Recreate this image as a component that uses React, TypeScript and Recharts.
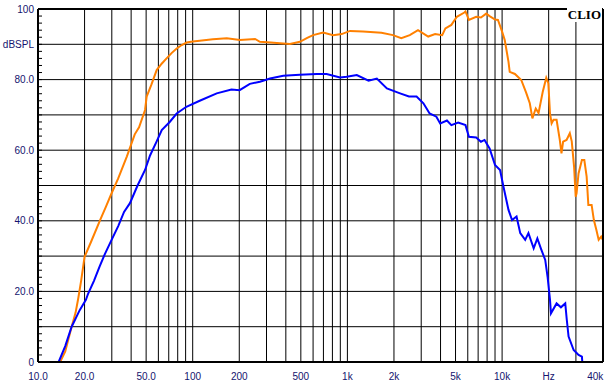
import {
  LineChart,
  Line,
  XAxis,
  YAxis,
  CartesianGrid,
  ReferenceLine,
} from "recharts";

// frequency response, Hz / dBSPL
const orangeFreq = [
  13.9, 15, 16.5, 17.5, 18.2, 19, 20, 22, 25.2, 27.5, 29.9, 33, 37.5, 42.2, 45,
  49.2, 50.4, 54, 58.5, 63, 67.8, 73, 78.8, 85, 91.3, 100, 111, 135, 166, 202,
  253, 272, 320, 366, 425, 493, 550, 600, 697, 808, 918, 1040, 1260, 1660, 1970,
  2230, 2530, 2860, 3330, 3690, 4100, 4300, 4700, 5100, 5700, 5800, 6100, 6800,
  7300, 7900, 8300, 9000, 9400, 10000, 10400, 11000, 11200, 12100, 13300, 14300,
  15100, 15700, 16500, 17200, 18300, 19300, 19900, 20400, 20900, 21500, 22500,
  23600, 24200, 24800, 26100, 27400, 28200, 29200, 29900, 30300, 31200, 32800,
  34000, 35200, 36100, 37900, 39200, 40700, 42100, 43700, 44800,
];
const orangeDb = [
  0, 3, 10, 14, 18, 23, 29.8, 34, 40.2, 44, 47.8, 52, 58.2, 64.5, 66.5, 71.4,
  75.2, 78.5, 82.7, 84.5, 86, 87.5, 88.8, 89.8, 90.5, 90.8, 91, 91.4, 91.7, 91.2,
  91.5, 90.7, 90.5, 90.3, 90.1, 90.7, 91.8, 92.6, 93.3, 92.6, 92.9, 93.8, 93.6,
  93.3, 92.6, 91.7, 92.6, 94, 92.2, 92.9, 92.6, 94.5, 95.5, 97.8, 99, 99.3, 96.9,
  97.8, 97.6, 98.7, 98, 97, 96.9, 93.6, 91.2, 85, 82.2, 81.6, 79.9, 76.3, 73.3,
  69, 71.8, 70.5, 76.5, 80.5, 79, 70.4, 67.6, 68.6, 68.6, 62.9, 59.1, 62.4, 62.9,
  64.8, 62.5, 55.3, 46.8, 47.8, 53.4, 57.2, 57.2, 52.5, 44.5, 44.5, 40.2, 37.4,
  34.6, 35.5, 34.6,
];

const blueFreq = [
  13.6, 15, 16.5, 18.6, 20.4, 21.1, 23, 25, 27, 29.9, 33, 36, 39.3, 44, 49.2, 53,
  58.5, 63.1, 71, 78.8, 91, 111, 143, 178, 201, 234, 272, 316, 385, 493, 632, 734,
  896, 990, 1150, 1370, 1550, 1800, 2190, 2500, 2800, 3100, 3400, 3760, 3980,
  4400, 4700, 5200, 5800, 6100, 6800, 7300, 7700, 8300, 9000, 9700, 10200, 11000,
  11600, 12400, 13100, 14100, 14800, 16000, 16900, 17800, 19000, 19700, 20400,
  20700, 22500, 24000, 25600, 26200, 26900, 29000, 31200, 32800, 33000,
];
const blueDb = [
  0, 4.5, 10, 14.7, 17.6, 19.4, 23, 27, 30.5, 34.6, 38.5, 42.5, 45, 50, 54.4,
  58.5, 62.5, 65.7, 68, 70.4, 72.3, 74, 76.1, 77.2, 77, 78.8, 79.4, 80.3, 81.1,
  81.4, 81.6, 81.6, 80.6, 80.8, 81.3, 79.7, 80.3, 77.5, 76.1, 75.2, 75.2, 73.3,
  70.4, 69.5, 67.6, 68.4, 67.1, 67.8, 67.1, 63.8, 63.6, 62.4, 62.9, 60.5, 55.8,
  54.4, 49.7, 43.1, 40.2, 41.2, 36.5, 34.6, 36.5, 32.2, 35, 32.2, 28.9, 24, 17.6,
  13.8, 16.6, 15.5, 16.6, 11.9, 7.2, 3.4, 2, 1.5, 0,
];

const xTicks = [10, 20, 50, 100, 200, 500, 1000, 2000, 5000, 10000, 20000, 40000];
const xTickLabels = ["10.0", "20.0", "50.0", "100", "200", "500", "1k", "2k", "5k", "10k", "Hz", "40k"];
const xGrid = [
  10, 20, 30, 40, 50, 60, 70, 80, 90, 100, 200, 300, 400, 500, 600, 700, 800, 900,
  1000, 2000, 3000, 4000, 5000, 6000, 7000, 8000, 9000, 10000, 20000, 30000,
];

const yGrid = [0, 10, 20, 30, 40, 50, 60, 70, 80, 90, 100];
const yLabelValues = [0, 20, 40, 60, 80, 90, 100];
const yLabels = ["0", "20.0", "40.0", "60.0", "80.0", "dBSPL", "100"];
const yMinor = [
  0, 2, 4, 6, 8, 10, 12, 14, 16, 18, 20, 22, 24, 26, 28, 30, 32, 34, 36, 38, 40,
  42, 44, 46, 48, 50, 52, 54, 56, 58, 60, 62, 64, 66, 68, 70, 72, 74, 76, 78, 80,
  82, 84, 86, 88, 90, 92, 94, 96, 98, 100,
];

const orangeData = orangeFreq.map((f, i) => ({ f, db: orangeDb[i] }));
const blueData = blueFreq.map((f, i) => ({ f, db: blueDb[i] }));

const labelFont = "'Liberation Sans', Arial, sans-serif";
const labelColor = "#14146e";

const LeftTick = ({ x, y, payload }: any) => {
  const i = yLabelValues.indexOf(payload.value);
  return (
    <g>
      <line x1={x + 5} x2={x + 8} y1={y} y2={y} stroke="#000" />
      {i >= 0 && (
        <text x={x} y={y} dy="0.355em" textAnchor="end" fontSize={10} fontFamily={labelFont} fill={labelColor}>
          {yLabels[i]}
        </text>
      )}
    </g>
  );
};

const RightTick = ({ x, y }: any) => (
  <line x1={x - 5} x2={x - 1} y1={y} y2={y} stroke="#000" />
);

const BottomTick = ({ x, y, payload }: any) => {
  const i = xTicks.indexOf(payload.value);
  return (
    <text x={x} y={y} dy="0.71em" textAnchor="middle" fontSize={10} fontFamily={labelFont} fill={labelColor}>
      {xTickLabels[i]}
    </text>
  );
};

const App = () => {
  return (
    <div style={{ position: "absolute", left: 0, top: 0, width: 611, height: 388, background: "#fff" }}>
      <LineChart width={611} height={388} margin={{ top: 9, right: 0, left: 0, bottom: 0 }}>
        <CartesianGrid
          stroke="#000"
          strokeWidth={1}
          horizontalValues={yGrid}
          verticalValues={xGrid}
        />
        <XAxis
          dataKey="f"
          type="number"
          scale="log"
          domain={[10, 44900]}
          allowDataOverflow
          ticks={xTicks}
          interval={0}
          height={26}
          tickSize={0}
          tickMargin={11}
          tickLine={false}
          axisLine={{ stroke: "#000", strokeWidth: 2 }}
          tick={<BottomTick />}
        />
        <YAxis
          type="number"
          domain={[0, 100]}
          allowDataOverflow
          ticks={yMinor}
          interval={0}
          width={38}
          tickSize={0}
          tickMargin={4}
          tickLine={false}
          axisLine={{ stroke: "#000", strokeWidth: 2 }}
          tick={<LeftTick />}
        />
        <YAxis
          yAxisId="r"
          orientation="right"
          type="number"
          domain={[0, 100]}
          ticks={yMinor}
          interval={0}
          width={8}
          tickSize={0}
          tickMargin={0}
          tickLine={false}
          axisLine={{ stroke: "#000", strokeWidth: 2 }}
          tick={<RightTick />}
        />
        <ReferenceLine y={100} stroke="#000" strokeWidth={2} />
        <Line
          data={orangeData}
          dataKey="db"
          type="linear"
          stroke="#ff8000"
          strokeWidth={2}
          dot={false}
          isAnimationActive={false}
        />
        <Line
          data={blueData}
          dataKey="db"
          type="linear"
          stroke="#0000ff"
          strokeWidth={2}
          dot={false}
          isAnimationActive={false}
        />
      </LineChart>
      <div
        style={{
          position: "absolute",
          right: 9,
          top: 7,
          padding: "0 1px",
          background: "#fff",
          fontFamily: "'Liberation Serif', 'Times New Roman', serif",
          fontWeight: "bold",
          fontSize: 13,
          lineHeight: "15px",
          color: "#000",
        }}
      >
        CLIO
      </div>
    </div>
  );
};

export default App;
